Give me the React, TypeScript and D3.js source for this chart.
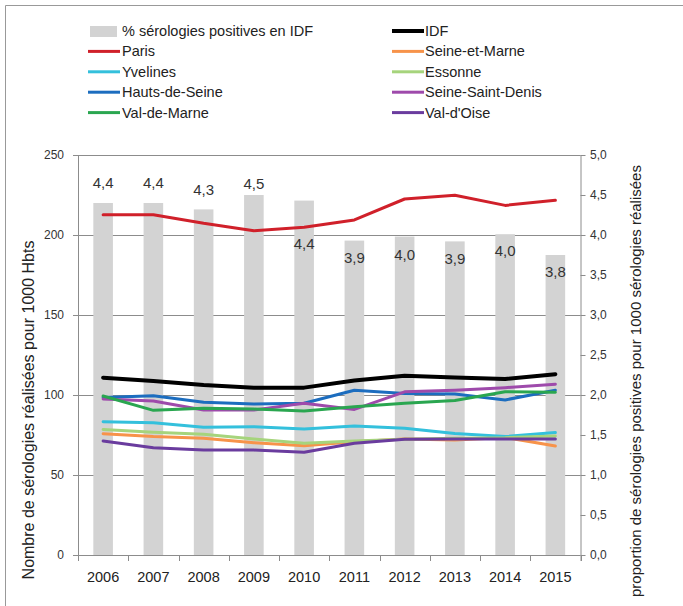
import React from "react";
import * as d3 from "d3";

const years = ["2006", "2007", "2008", "2009", "2010", "2011", "2012", "2013", "2014", "2015"];
const positivePct = [4.40, 4.40, 4.32, 4.50, 4.43, 3.93, 3.98, 3.92, 4.01, 3.75];
const positiveLabels = ["4,4", "4,4", "4,3", "4,5", "4,4", "3,9", "4,0", "3,9", "4,0", "3,8"];

const idf = [110.8, 108.7, 106.2, 104.6, 104.6, 109, 112, 111, 110, 113];
const paris = [212.7, 212.7, 207.3, 202.7, 204.8, 209.4, 222.5, 224.8, 218.5, 221.7];
const seineEtMarne = [75.8, 74, 72.9, 70.2, 68.3, 70.8, 72.5, 71.9, 73.5, 68.1];
const yvelines = [83.3, 82.7, 79.8, 80.2, 78.8, 80.6, 79.2, 76, 74, 76.5];
const essonne = [78.5, 76.7, 75.4, 72.5, 69.8, 71.3, 72.3, 72.9, 73.3, 74.4];
const hautsDeSeine = [98.5, 99.6, 95.4, 94.4, 94.8, 103, 101, 100.6, 96.9, 103];
const seineSaintDenis = [97.5, 96.2, 90.6, 90.6, 94.8, 91, 102, 103, 104.6, 106.7];
const valDeMarne = [99.4, 90.4, 91.7, 91.2, 90, 92.7, 94.8, 96.5, 102, 101.7];
const valDOise = [71.3, 67, 65.6, 65.6, 64.2, 69.8, 72.3, 72.5, 72.5, 72.5];

const seriesNames = ["IDF", "Paris", "Seine-et-Marne", "Yvelines", "Essonne", "Hauts-de-Seine", "Seine-Saint-Denis", "Val-de-Marne", "Val-d'Oise"];
const seriesValues = [idf, paris, seineEtMarne, yvelines, essonne, hautsDeSeine, seineSaintDenis, valDeMarne, valDOise];
const seriesColors = ["#000000", "#d0202a", "#f7934a", "#34c0dc", "#a6d47c", "#1c6dbf", "#9e4aab", "#2aa650", "#6a3c9e"];

const leftTicks = [0, 50, 100, 150, 200, 250];
const rightTicks = [0, 0.5, 1, 1.5, 2, 2.5, 3, 3.5, 4, 4.5, 5];

// layout: vertical offsets of bar value labels relative to bar top
const labelDy = [-20, -20, -20, -11, 43, 17, 18, 17, 17, 17];

const FONT = "'Liberation Sans', Arial, sans-serif";

export default function App() {
  const W = 683, H = 606;
  const x0 = 78, x1 = 580.5, yTop = 155, yBot = 555;
  const x = d3.scaleBand<string>().domain(years).range([x0, x1]).paddingInner(0.61).paddingOuter(0.305);
  const xc = (i: number) => (x(years[i]) as number) + x.bandwidth() / 2;
  const yL = d3.scaleLinear().domain([0, 250]).range([yBot, yTop]);
  const yR = d3.scaleLinear().domain([0, 5]).range([yBot, yTop]);
  const band = (x1 - x0) / years.length;
  const line = d3.line<number>().x((_, i) => xc(i)).y((v) => yL(v));
  const fmt = (v: number) => v.toFixed(1).replace(".", ",");
  const axisColor = "#8c8c8c";

  const legendRowsLeft = [
    { kind: "bar", name: "% sérologies positives en IDF" },
    { kind: "line", idx: 1 },
    { kind: "line", idx: 3 },
    { kind: "line", idx: 5 },
    { kind: "line", idx: 7 },
  ];
  const legendRowsRight = [0, 2, 4, 6, 8];
  const rowY = (r: number) => 31 + r * 20.4;

  return (
    <svg width={W} height={H} style={{ position: "absolute", left: 0, top: 0, background: "#fff" }} fontFamily={FONT}>
      <rect x={0} y={0} width={W} height={H} fill="#fff" />
      <line x1={5.5} y1={5.5} x2={W} y2={5.5} stroke="#999" strokeWidth={1} />
      <line x1={5.5} y1={5.5} x2={5.5} y2={H} stroke="#999" strokeWidth={1} />

      {/* legend */}
      {legendRowsLeft.map((r, i) =>
        r.kind === "bar" ? (
          <g key={"ll" + i}>
            <rect x={90} y={rowY(i) - 5} width={27} height={11} fill="#d3d3d3" />
            <text x={122} y={rowY(i)} dy="0.35em" fontSize={14.5} fill="#222">{r.name}</text>
          </g>
        ) : (
          <g key={"ll" + i}>
            <line x1={88} x2={120} y1={rowY(i)} y2={rowY(i)} stroke={seriesColors[r.idx as number]} strokeWidth={3} />
            <text x={122} y={rowY(i)} dy="0.35em" fontSize={14.5} fill="#222">{seriesNames[r.idx as number]}</text>
          </g>
        )
      )}
      {legendRowsRight.map((idx, i) => (
        <g key={"lr" + i}>
          <line x1={392} x2={424} y1={rowY(i)} y2={rowY(i)} stroke={seriesColors[idx]} strokeWidth={idx === 0 ? 4 : 3} />
          <text x={425} y={rowY(i)} dy="0.35em" fontSize={14.5} fill="#222">{seriesNames[idx]}</text>
        </g>
      ))}

      {/* gridlines */}
      {leftTicks.map((t) => (
        <line key={"g" + t} x1={x0 - 5} x2={x1} y1={Math.round(yL(t)) + 0.5} y2={Math.round(yL(t)) + 0.5} stroke={axisColor} strokeWidth={1} />
      ))}
      {/* bars */}
      {years.map((yr, i) => (
        <rect key={"b" + yr} x={x(yr)} y={yR(positivePct[i])} width={x.bandwidth()} height={yBot - yR(positivePct[i])} fill="#d3d3d3" />
      ))}
      {/* axes */}
      <line x1={x0 + 0.5} x2={x0 + 0.5} y1={yTop} y2={yBot + 6} stroke={axisColor} />
      <line x1={x1 + 0.5} x2={x1 + 0.5} y1={yTop} y2={yBot + 6} stroke={axisColor} />
      {rightTicks.map((t) => (
        <line key={"rt" + t} x1={x1} x2={x1 + 5} y1={Math.round(yR(t)) + 0.5} y2={Math.round(yR(t)) + 0.5} stroke={axisColor} />
      ))}
      {d3.range(years.length + 1).map((k) => (
        <line key={"xt" + k} x1={Math.round(x0 + k * band) + 0.5} x2={Math.round(x0 + k * band) + 0.5} y1={yBot} y2={yBot + 6} stroke={axisColor} />
      ))}
      {leftTicks.map((t) => (
        <text key={"lt" + t} x={64} y={yL(t)} dy="0.35em" textAnchor="end" fontSize={12} fill="#333">{t}</text>
      ))}
      {rightTicks.map((t) => (
        <text key={"rl" + t} x={590} y={yR(t)} dy="0.35em" textAnchor="start" fontSize={12} fill="#333">{fmt(t)}</text>
      ))}
      {years.map((yr, i) => (
        <text key={"xl" + yr} x={xc(i)} y={577} dy="0.35em" textAnchor="middle" fontSize={14.5} fill="#222">{yr}</text>
      ))}

      {/* lines */}
      {seriesValues.map((vals, s) => (
        <path key={"s" + s} d={line(vals) as string} fill="none" stroke={seriesColors[s]} strokeWidth={s === 0 ? 4 : 3} strokeLinejoin="round" strokeLinecap="round" />
      ))}

      {/* bar value labels */}
      {years.map((yr, i) => (
        <text key={"bl" + yr} x={xc(i)} y={yR(positivePct[i]) + labelDy[i]} dy="0.35em" textAnchor="middle" fontSize={15} fill="#333">{positiveLabels[i]}</text>
      ))}

      {/* axis titles */}
      <text transform={`translate(28,410) rotate(-90)`} textAnchor="middle" dy="0.35em" fontSize={16} fill="#222">Nombre de sérologies réalisées pour 1000 Hbts</text>
      <text transform={`translate(636,381) rotate(-90)`} textAnchor="middle" dy="0.35em" fontSize={15} fill="#222">proportion de sérologies positives pour 1000 sérologies réalisées</text>
    </svg>
  );
}
